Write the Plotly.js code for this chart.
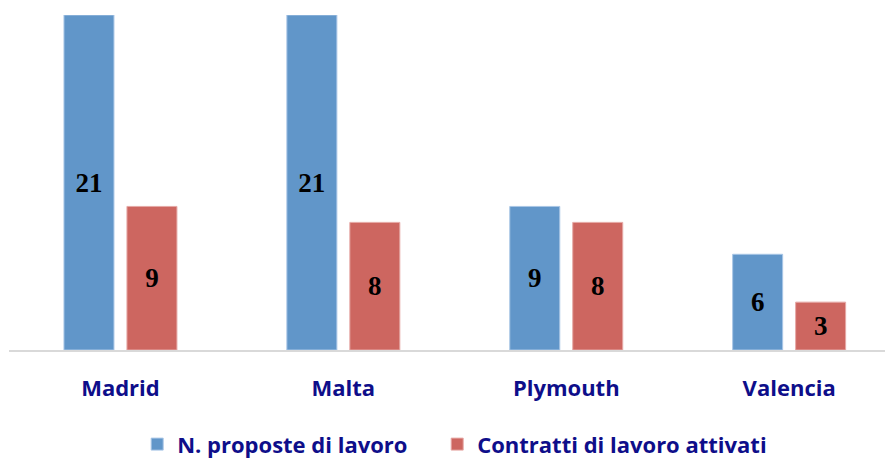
<!DOCTYPE html>
<html>
<head>
<meta charset="utf-8">
<script src="https://cdn.plot.ly/plotly-3.0.1.min.js"></script>
<style>html,body{margin:0;padding:0;background:#fff;}#chart{width:885px;height:459px;}</style>
</head>
<body>
<div id="chart"></div>
<script>
const categories = ["Madrid", "Malta", "Plymouth", "Valencia"];
const seriesNames = ["N. proposte di lavoro", "Contratti di lavoro attivati"];
const proposte = [21, 21, 9, 6];
const contratti = [9, 8, 8, 3];

const navy = "#0E0E8A";
const labelFont = {family: "Liberation Serif, serif", size: 27, color: "#000", weight: "bold"};
const legendFont = {family: "Open Sans, sans-serif", size: 22, color: navy, weight: "bold"};
const traces = [
  {
    type: "bar", name: seriesNames[0], x: categories, y: proposte, legend: "legend",
    marker: {color: "#6196C9", line: {color: "#A9C6E6", width: 1}},
    text: proposte.map(String), textposition: "inside", insidetextanchor: "middle",
    textfont: labelFont, hoverinfo: "none"
  },
  {
    type: "bar", name: seriesNames[1], x: categories, y: contratti, legend: "legend2",
    marker: {color: "#CD6660", line: {color: "#E6A9A6", width: 1}},
    text: contratti.map(String), textposition: "inside", insidetextanchor: "middle",
    textfont: labelFont, hoverinfo: "none"
  }
];

const legendBase = {
  orientation: "h", xref: "container", yref: "container",
  xanchor: "left", y: 0.032, yanchor: "middle",
  font: legendFont, itemwidth: 30
};

const layout = {
  width: 885, height: 459,
  margin: {l: 9, r: 0, t: 15, b: 109},
  paper_bgcolor: "#fff", plot_bgcolor: "#fff",
  barmode: "group", bargap: 0.435, bargroupgap: 0.206,
  showlegend: true,
  legend: Object.assign({}, legendBase, {x: 0.155}),
  legend2: Object.assign({}, legendBase, {x: 0.494}),
  xaxis: {
    type: "category", range: [-0.5, 3.43],
    showline: true, linecolor: "#D9D9D9", linewidth: 2,
    showgrid: false, zeroline: false, ticks: "",
    ticklabelstandoff: 18,
    tickfont: {family: "Open Sans, sans-serif", size: 22, color: navy, weight: "bold"}
  },
  yaxis: {
    range: [0, 21], visible: false, showgrid: false, zeroline: false, fixedrange: true
  }
};

Plotly.newPlot("chart", traces, layout, {displayModeBar: false, staticPlot: true});
</script>
</body>
</html>
